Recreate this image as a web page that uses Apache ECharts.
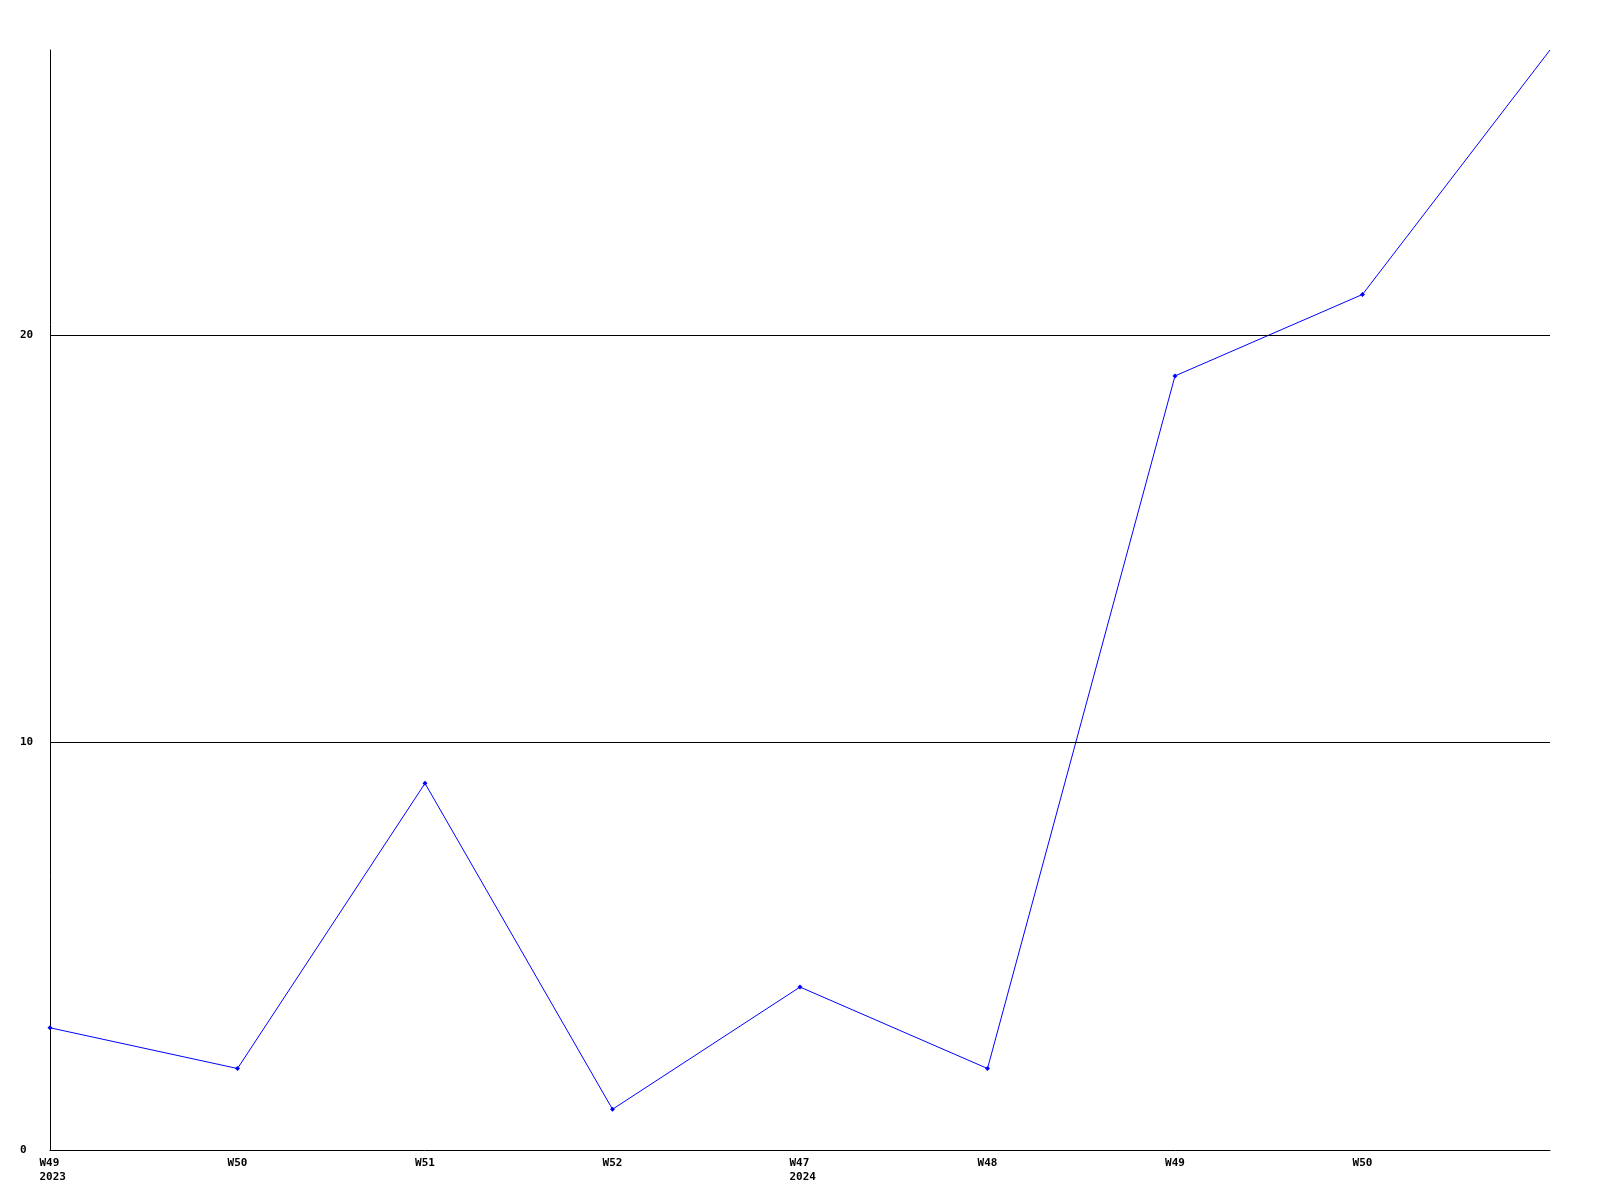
<!DOCTYPE html>
<html>
<head>
<meta charset="utf-8">
<script src="https://cdn.jsdelivr.net/npm/echarts@6/dist/echarts.min.js"></script>
<style>
html,body{margin:0;padding:0;background:#fff;}
#c{width:1600px;height:1200px;}
</style>
</head>
<body>
<div id="c"></div>
<script>
const categories = ["W49\n2023", "W50", "W51", "W52", "W47\n2024", "W48", "W49", "W50", ""];
const values = [3, 2, 9, 1, 4, 2, 19, 21, 27];
const gridValues = [10, 20];
const yMin = 0, yMax = 27, yInterval = 10;

const font = {fontFamily: 'DejaVu Sans Mono', fontWeight: 'bold', fontSize: 11, color: '#000'};
const chart = echarts.init(document.getElementById('c'), null, {renderer: 'canvas'});
chart.setOption({
  animation: false,
  backgroundColor: '#fff',
  grid: {left: 50, right: 50, top: 50, bottom: 50, containLabel: false},
  xAxis: {
    type: 'category',
    data: categories,
    boundaryGap: false,
    axisLine: {show: true, lineStyle: {color: '#000', width: 1}},
    axisTick: {show: false},
    axisLabel: Object.assign({
      interval: 0, margin: 6, lineHeight: 14,
      formatter: function (v) {
        if (v.indexOf('\n') < 0) return v;
        const parts = v.split('\n');
        return parts.map(p => '{m|' + p + '}').join('\n');
      },
      rich: {m: Object.assign({lineHeight: 14, width: 27, align: 'left', padding: [0, 0, 0, 6]}, font)}
    }, font),
    splitLine: {show: false}
  },
  yAxis: {
    type: 'value',
    min: yMin, max: yMax, interval: yInterval,
    axisLine: {show: true, lineStyle: {color: '#000', width: 1}},
    axisTick: {show: false},
    splitLine: {show: false},
    axisLabel: Object.assign({align: 'left', margin: 30, showMaxLabel: false,
      formatter: v => (v % 10 === 0 ? String(v) : '')}, font)
  },
  series: [{
    type: 'line',
    data: values.map((v, i) => i === values.length - 1 ? {value: v, symbol: 'none'} : v),
    symbol: 'diamond',
    symbolSize: 5,
    showAllSymbol: true,
    lineStyle: {color: '#0000ff', width: 1},
    itemStyle: {color: '#0000ff'},
    markLine: {
      silent: true,
      symbol: 'none',
      label: {show: false},
      lineStyle: {color: '#000', width: 1, type: 'solid'},
      data: gridValues.map(v => ({yAxis: v}))
    }
  }]
});
</script>
</body>
</html>
